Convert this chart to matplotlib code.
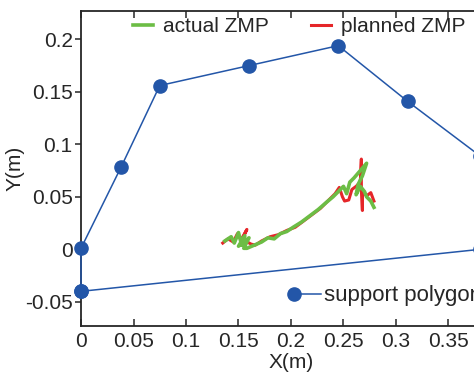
import matplotlib
matplotlib.use("Agg")
import matplotlib.pyplot as plt
from matplotlib.legend_handler import HandlerLine2D

plt.rcParams['font.family'] = ['Liberation Sans', 'DejaVu Sans']

# support polygon vertices (m)
poly_x = [0.0, 0.0, 0.038, 0.075, 0.160, 0.245, 0.311, 0.380, 0.380, 0.0]
poly_y = [-0.040, 0.001, 0.078, 0.156, 0.175, 0.194, 0.141, 0.089, 0.000, -0.040]

# planned ZMP (red)
plan_x = [0.135, 0.140, 0.145, 0.149, 0.153, 0.158, 0.153, 0.162, 0.166, 0.172, 0.180,
          0.188, 0.196, 0.204, 0.212, 0.220, 0.228, 0.236, 0.242, 0.246, 0.249, 0.251,
          0.255, 0.258, 0.262, 0.266, 0.267, 0.267, 0.268, 0.268, 0.272, 0.276, 0.279]
plan_y = [0.006, 0.010, 0.007, 0.015, 0.008, 0.019, 0.010, 0.005, 0.004, 0.008, 0.012,
          0.014, 0.018, 0.021, 0.027, 0.033, 0.039, 0.047, 0.053, 0.059, 0.050, 0.046,
          0.047, 0.057, 0.060, 0.064, 0.086, 0.060, 0.037, 0.055, 0.051, 0.054, 0.046]

# actual ZMP (green)
act_x = [0.137, 0.143, 0.146, 0.150, 0.153, 0.156, 0.150, 0.160, 0.155, 0.158, 0.165,
         0.172, 0.178, 0.184, 0.190, 0.196, 0.202, 0.210, 0.218, 0.226, 0.234, 0.240,
         0.246, 0.250, 0.253, 0.256, 0.260, 0.266, 0.272, 0.268, 0.264, 0.262, 0.266,
         0.270, 0.272, 0.276, 0.279]
act_y = [0.008, 0.012, 0.006, 0.016, 0.004, 0.013, 0.003, 0.011, 0.001, 0.001, 0.004,
         0.007, 0.011, 0.010, 0.015, 0.017, 0.021, 0.026, 0.032, 0.038, 0.045, 0.050,
         0.056, 0.060, 0.053, 0.064, 0.068, 0.075, 0.082, 0.070, 0.062, 0.052, 0.060,
         0.055, 0.050, 0.046, 0.040]

xticks = [0, 0.05, 0.1, 0.15, 0.2, 0.25, 0.3, 0.35, 0.4]
xtick_labels = ['0', '0.05', '0.1', '0.15', '0.2', '0.25', '0.3', '0.35', '0.4']
yticks = [-0.05, 0, 0.05, 0.1, 0.15, 0.2]
ytick_labels = ['-0.05', '0', '0.05', '0.1', '0.15', '0.2']

blue = '#2356a8'
green = '#6cbd45'
red = '#e52629'
dark = '#262626'
fs = 15


class LeftMarker(HandlerLine2D):
    # put the marker at the left end of the legend line
    def create_artists(self, *args, **kwargs):
        arts = super().create_artists(*args, **kwargs)
        arts[0].set_markevery([0])
        return arts


fig = plt.figure(figsize=(4.74, 3.74), dpi=100)
ax = fig.add_axes([81 / 474, 48 / 374, 420 / 474, 315 / 374])

poly, = ax.plot(poly_x, poly_y, color=blue, lw=1.1, marker='o', ms=9.5,
                label='support polygon', clip_on=False, zorder=3)
l_plan, = ax.plot(plan_x, plan_y, color=red, lw=2.2, label='planned ZMP')
l_act, = ax.plot(act_x, act_y, color=green, lw=2.6, label='actual ZMP')

ax.set_xlim(0, 0.4)
ax.set_ylim(-0.073, 0.227)
ax.set_xticks(xticks)
ax.set_xticklabels(xtick_labels)
ax.set_yticks(yticks)
ax.set_yticklabels(ytick_labels)

ax.tick_params(axis='x', direction='in', top=True, length=5, width=1.1,
               labelsize=fs, colors=dark, pad=4)
ax.tick_params(axis='y', direction='out', length=4, width=1.1,
               labelsize=fs, colors=dark, pad=2)
for s in ax.spines.values():
    s.set_color(dark)
    s.set_linewidth(1.3)

ax.set_xlabel('X(m)', fontsize=fs, color=dark, labelpad=2)
ax.set_ylabel('Y(m)', fontsize=fs, color=dark, labelpad=0)

leg1 = ax.legend([l_act, l_plan], ['actual ZMP', 'planned ZMP'], ncol=2,
                 loc='center left', bbox_to_anchor=(133 / 474, 1 - 27 / 374),
                 bbox_transform=fig.transFigure, frameon=False, fontsize=fs,
                 handlelength=0.95, handletextpad=0.5, columnspacing=2.0,
                 borderpad=0, borderaxespad=0)
for t in leg1.get_texts():
    t.set_color(dark)
ax.add_artist(leg1)

leg2 = ax.legend([poly], ['support polygon'], loc='center left',
                 bbox_to_anchor=(294 / 474, 1 - 296 / 374),
                 bbox_transform=fig.transFigure, frameon=False, fontsize=fs + 1,
                 handlelength=1.2, handletextpad=0.15, borderpad=0, borderaxespad=0,
                 handler_map={poly: LeftMarker(numpoints=1)})
for t in leg2.get_texts():
    t.set_color(dark)

fig.savefig('out.png', dpi=100)
